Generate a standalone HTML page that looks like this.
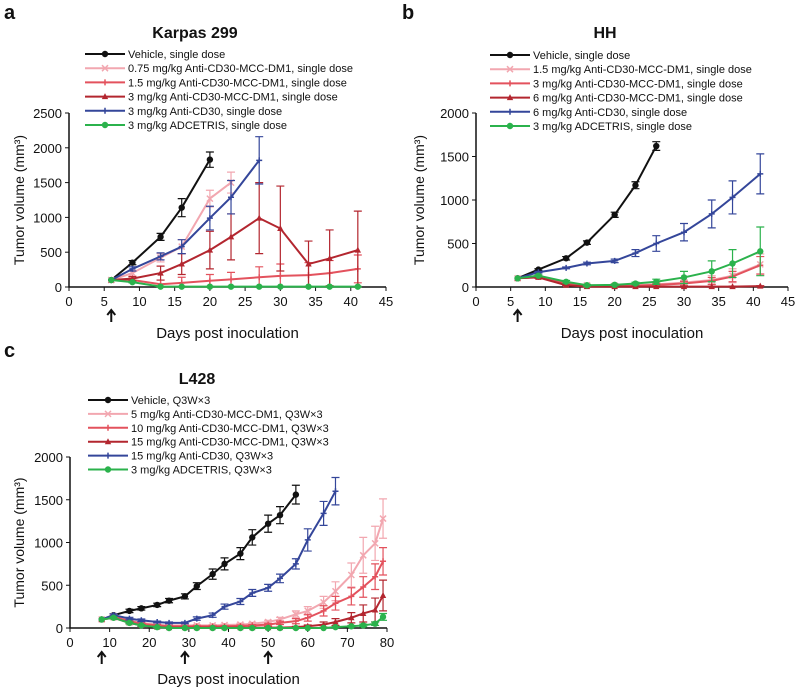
<!DOCTYPE html>
<html><head><meta charset="utf-8"><style>
body{margin:0;background:#fff;}
svg{font-family:"Liberation Sans",Arial,sans-serif;}
</style></head><body>
<svg id="fig" width="800" height="691" viewBox="0 0 800 691"></svg>
<script>
// ---- Panel a (Karpas 299) ----
const aDaysLong = [6,9,13,16,20,23,27,30,34,37,41];
const aVehDays = [6,9,13,16,20];
const aVeh = [100,350,720,1140,1830];
const aVehErr = [0,30,50,130,110];
const aP075Days = [6,9,13,16,20,23];
const aP075 = [100,200,420,580,1270,1500];
const aP075Err = [0,40,60,100,120,150];
const aR15 = [100,100,40,60,90,110,140,160,170,200,260];
const aR15Err = [0,30,60,80,90,100,150,170,180,180,200];
const aR3 = [100,120,200,330,530,720,990,840,330,410,530];
const aR3Err = [0,30,100,150,270,330,510,610,330,410,560];
const aBlueDays = [6,9,13,16,20,23,27];
const aBlue = [100,260,440,580,990,1290,1820];
const aBlueErr = [0,30,50,100,170,240,340];
const aGreen = [100,70,5,5,5,5,5,5,5,5,5];
const aGreenErr = [0,10,5,5,5,5,5,5,5,5,5];
const aXTicks = [0,5,10,15,20,25,30,35,40,45];
const aYTicks = [0,500,1000,1500,2000,2500];
const aLegend = ["Vehicle, single dose","0.75 mg/kg Anti-CD30-MCC-DM1, single dose","1.5 mg/kg Anti-CD30-MCC-DM1, single dose","3 mg/kg Anti-CD30-MCC-DM1, single dose","3 mg/kg Anti-CD30, single dose","3 mg/kg ADCETRIS, single dose"];
// ---- Panel b (HH) ----
const bVehDays = [6,9,13,16,20,23,26];
const bVeh = [100,200,330,510,830,1170,1620];
const bVehErr = [0,10,20,20,30,40,50];
const bDays = [6,9,13,16,20,23,26,30,34,37,41];
const bP15 = [100,120,40,20,15,20,30,50,80,130,260];
const bP15Err = [0,10,10,10,10,10,20,30,50,80,120];
const bR3 = [100,115,40,15,10,15,25,40,70,120,250];
const bR3Err = [0,10,10,10,10,10,15,25,40,60,100];
const bR6 = [100,110,20,5,5,5,5,5,5,5,10];
const bR6Err = [0,10,5,5,5,5,5,5,5,5,5];
const bBlue = [100,170,220,270,300,390,500,630,840,1030,1300];
const bBlueErr = [0,10,10,15,20,40,90,100,160,190,230];
const bGreen = [100,130,60,20,25,40,60,110,180,270,410];
const bGreenErr = [0,10,15,10,10,15,30,70,120,160,280];
const bXTicks = [0,5,10,15,20,25,30,35,40,45];
const bYTicks = [0,500,1000,1500,2000];
const bLegend = ["Vehicle, single dose","1.5 mg/kg Anti-CD30-MCC-DM1, single dose","3 mg/kg Anti-CD30-MCC-DM1, single dose","6 mg/kg Anti-CD30-MCC-DM1, single dose","6 mg/kg Anti-CD30, single dose","3 mg/kg ADCETRIS, single dose"];
// ---- Panel c (L428) ----
const cDays = [8,11,15,18,22,25,29,32,36,39,43,46,50,53,57,60,64,67,71,74,77,79];
const cVehDays = [8,11,15,18,22,25,29,32,36,39,43,46,50,53,57];
const cVeh = [100,150,200,230,270,320,370,490,630,750,870,1060,1220,1320,1560];
const cVehErr = [0,15,20,20,20,25,30,40,60,70,70,90,100,100,110];
const cBlueDays = [8,11,15,18,22,25,29,32,36,39,43,46,50,53,57,60,64,67];
const cBlue = [100,150,110,90,70,60,60,110,150,250,310,410,470,580,750,1030,1340,1600];
const cBlueErr = [0,15,15,15,10,10,10,20,25,30,35,40,40,50,60,130,140,160];
const cP5 = [100,140,90,60,40,30,30,30,30,35,40,50,70,100,160,200,300,430,620,850,990,1280];
const cP5Err = [0,15,15,10,10,10,10,10,10,10,15,15,20,25,40,50,70,110,140,210,200,230];
const cR10 = [100,130,80,50,30,20,20,20,20,20,25,30,40,60,80,120,200,290,370,480,600,780];
const cR10Err = [0,15,10,10,10,10,10,10,10,10,10,10,15,20,30,40,60,80,100,120,150,160];
const cR15 = [100,120,60,30,10,5,5,5,5,5,5,5,5,5,10,20,40,70,120,170,210,380];
const cR15Err = [0,10,10,10,5,5,5,5,5,5,5,5,5,5,10,15,30,40,60,100,140,180];
const cGreen = [100,120,60,30,10,0,0,0,0,0,0,0,0,0,0,0,0,10,20,30,50,130];
const cGreenErr = [0,10,10,10,5,0,0,0,0,0,0,0,0,0,0,0,0,5,10,15,20,40];
const cXTicks = [0,10,20,30,40,50,60,70,80];
const cYTicks = [0,500,1000,1500,2000];
const cArrows = [8,29,50];
const cLegend = ["Vehicle, Q3W×3","5 mg/kg Anti-CD30-MCC-DM1, Q3W×3","10 mg/kg Anti-CD30-MCC-DM1, Q3W×3","15 mg/kg Anti-CD30-MCC-DM1, Q3W×3","15 mg/kg Anti-CD30, Q3W×3","3 mg/kg ADCETRIS, Q3W×3"];

const COL = {k:"#111",p:"#f2a7b0",r:"#e3525d",d:"#b3262f",b:"#34469a",g:"#2bb24c"};
const NS="http://www.w3.org/2000/svg";
const svg=document.getElementById('fig');
function mk(tag,attrs,parent){const e=document.createElementNS(NS,tag);for(const k in attrs)e.setAttribute(k,attrs[k]);(parent||svg).appendChild(e);return e;}
function txt(s,x,y,size,anchor,weight,parent){const t=mk('text',{x:x,y:y,'font-size':size,'text-anchor':anchor||'start','font-weight':weight||'normal',fill:'#111'},parent);t.textContent=s;return t;}
function marker(g,type,x,y,c){
  if(type==='o'){mk('circle',{cx:x,cy:y,r:3.2,fill:c},g);}
  else if(type==='x'){mk('path',{d:`M${x-3},${y-3}L${x+3},${y+3}M${x-3},${y+3}L${x+3},${y-3}`,stroke:c,'stroke-width':1.5},g);}
  else if(type==='+'){mk('path',{d:`M${x-3},${y}L${x+3},${y}M${x},${y-3}L${x},${y+3}`,stroke:c,'stroke-width':1.5},g);}
  else if(type==='^'){mk('path',{d:`M${x},${y-3.5}L${x+3.2},${y+2.5}L${x-3.2},${y+2.5}Z`,fill:c},g);}
}
function panel(o){
  const xs=d=>o.x0+(d-o.xmin)/(o.xmax-o.xmin)*(o.x1-o.x0);
  const ys=v=>o.y0-v/o.ymax*(o.y0-o.y1);
  const g=mk('g',{});
  
  
  const pl=txt(o.letter,o.lx,o.ly,20,'start','bold',g);
  
  const tt=txt(o.title,o.tx,o.ty,16,'middle','bold',g);
  
  const ax=mk('path',{d:`M${o.x0},${ys(o.ymax)}L${o.x0},${o.y0}L${o.x1},${o.y0}`,stroke:'#111','stroke-width':1.5,fill:'none'},g);
  
  o.yt.forEach(v=>{mk('line',{x1:o.x0-4,x2:o.x0,y1:ys(v),y2:ys(v),stroke:'#111'},g);
    const t=txt(String(v),o.x0-7,ys(v)+5,13,'end','normal',g);});
  o.xt.forEach(v=>{mk('line',{x1:xs(v),x2:xs(v),y1:o.y0,y2:o.y0+4,stroke:'#111'},g);
    const t=txt(String(v),xs(v),o.y0+19,13,'middle','normal',g);});
  const yl=txt('Tumor volume (mm³)',0,0,14,'middle','normal',g);
  yl.setAttribute('transform',`translate(${o.yx},${(o.y0+ys(o.ymax))/2}) rotate(-90)`);
  
  const xl=txt('Days post inoculation',(o.x0+o.x1)/2,o.xly,15,'middle','normal',g);
  
  o.arrows.forEach(d=>{const a=mk('path',{d:`M${xs(d)},${o.ay+12}L${xs(d)},${o.ay}M${xs(d)-4},${o.ay+5}L${xs(d)},${o.ay}L${xs(d)+4},${o.ay+5}`,stroke:'#111','stroke-width':2,fill:'none'},g);
    });
  o.series.forEach((s,i)=>{
    const sg=mk('g',{},g);
    
    
    s.days.forEach((d,j)=>{const e=s.err[j];if(e>0){const X=xs(d),Yt=ys(s.vals[j]+e),Yb=ys(Math.max(0,s.vals[j]-e));
      mk('path',{d:`M${X},${Yt}L${X},${Yb}M${X-4},${Yt}L${X+4},${Yt}M${X-4},${Yb}L${X+4},${Yb}`,stroke:s.c,'stroke-width':1.2,fill:'none'},sg);}});
    mk('polyline',{points:s.days.map((d,j)=>xs(d)+','+ys(s.vals[j])).join(' '),stroke:s.c,'stroke-width':2,fill:'none'},sg);
    s.days.forEach((d,j)=>marker(sg,s.m,xs(d),ys(s.vals[j]),s.c));
    const ly=o.legY+i*o.legDy;
    const lg=mk('g',{},g);
    
    
    mk('line',{x1:o.legX,x2:o.legX+40,y1:ly,y2:ly,stroke:s.c,'stroke-width':2},lg);
    marker(lg,s.m,o.legX+20,ly,s.c);
    txt(o.legend[i],o.legX+43,ly+4,11,'start','normal',lg);
  });
}
panel({name:'panel-a-karpas299',letter:'a',lx:4,ly:19,title:'Karpas 299',tx:195,ty:38,x0:69,x1:386,xmin:0,xmax:45,y0:287,y1:113,ymax:2500,
  xt:aXTicks,yt:aYTicks,yx:24,xly:338,ay:310,arrows:[6],legX:85,legY:54,legDy:14.2,legend:aLegend,
  series:[{days:aVehDays,vals:aVeh,err:aVehErr,c:COL.k,m:'o'},{days:aP075Days,vals:aP075,err:aP075Err,c:COL.p,m:'x'},
  {days:aDaysLong,vals:aR15,err:aR15Err,c:COL.r,m:'+'},{days:aDaysLong,vals:aR3,err:aR3Err,c:COL.d,m:'^'},
  {days:aBlueDays,vals:aBlue,err:aBlueErr,c:COL.b,m:'+'},{days:aDaysLong,vals:aGreen,err:aGreenErr,c:COL.g,m:'o'}]});
panel({name:'panel-b-hh',letter:'b',lx:402,ly:19,title:'HH',tx:605,ty:38,x0:476,x1:788,xmin:0,xmax:45,y0:287,y1:113,ymax:2000,
  xt:bXTicks,yt:bYTicks,yx:424,xly:338,ay:310,arrows:[6],legX:490,legY:55,legDy:14.2,legend:bLegend,
  series:[{days:bVehDays,vals:bVeh,err:bVehErr,c:COL.k,m:'o'},{days:bDays,vals:bP15,err:bP15Err,c:COL.p,m:'x'},
  {days:bDays,vals:bR3,err:bR3Err,c:COL.r,m:'+'},{days:bDays,vals:bR6,err:bR6Err,c:COL.d,m:'^'},
  {days:bDays,vals:bBlue,err:bBlueErr,c:COL.b,m:'+'},{days:bDays,vals:bGreen,err:bGreenErr,c:COL.g,m:'o'}]});
panel({name:'panel-c-l428',letter:'c',lx:4,ly:357,title:'L428',tx:197,ty:384,x0:70,x1:387,xmin:0,xmax:80,y0:628,y1:457,ymax:2000,
  xt:cXTicks,yt:cYTicks,yx:24,xly:684,ay:652,arrows:cArrows,legX:88,legY:400,legDy:13.9,legend:cLegend,
  series:[{days:cVehDays,vals:cVeh,err:cVehErr,c:COL.k,m:'o'},{days:cDays,vals:cP5,err:cP5Err,c:COL.p,m:'x'},
  {days:cDays,vals:cR10,err:cR10Err,c:COL.r,m:'+'},{days:cDays,vals:cR15,err:cR15Err,c:COL.d,m:'^'},
  {days:cBlueDays,vals:cBlue,err:cBlueErr,c:COL.b,m:'+'},{days:cDays,vals:cGreen,err:cGreenErr,c:COL.g,m:'o'}]});
</script>
</body></html>
